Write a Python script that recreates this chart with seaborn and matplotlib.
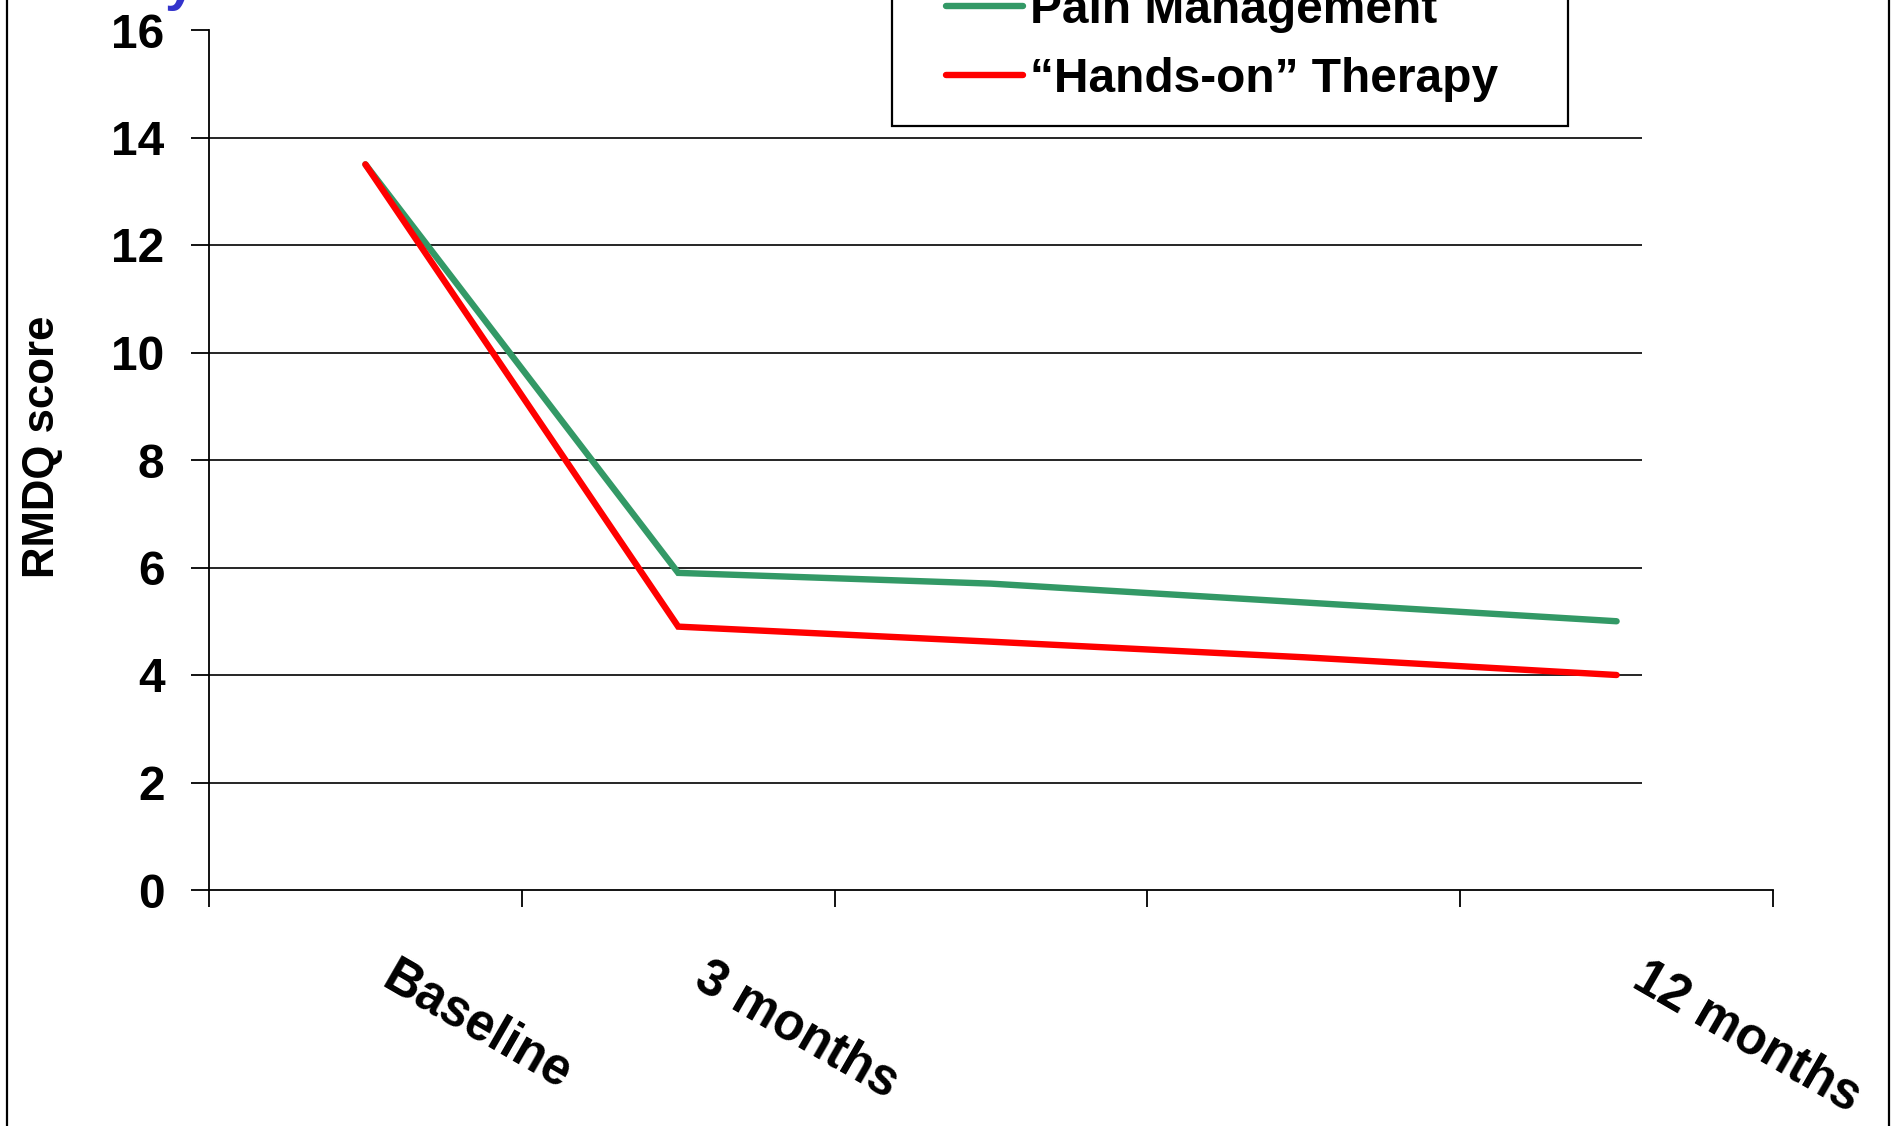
import numpy as np
import pandas as pd
import matplotlib
matplotlib.use("Agg")
import matplotlib.pyplot as plt
import matplotlib.transforms as mtransforms
from matplotlib.patches import Rectangle
import seaborn as sns

# data
timepoints = ["Baseline", "3 months", "6 months", "9 months", "12 months"]
tick_labels = ["Baseline", "3 months", "", "", "12 months"]
pain_management = [13.5, 5.9, 5.7, 5.35, 5.0]
hands_on = [13.5, 4.9, 4.62, 4.33, 4.0]
groups = ["Pain Management", "\u201cHands-on\u201d Therapy"]
colors = {"Pain Management": "#339966", "\u201cHands-on\u201d Therapy": "#ff0000"}

df = pd.concat([
    pd.DataFrame({"pos": range(len(timepoints)), "time": timepoints,
                  "score": pain_management, "group": groups[0]}),
    pd.DataFrame({"pos": range(len(timepoints)), "time": timepoints,
                  "score": hands_on, "group": groups[1]}),
])

sns.set_style("white")
plt.rcParams["font.family"] = ["Liberation Sans", "DejaVu Sans"]
plt.rcParams["font.weight"] = "bold"
for key in ["text.color", "axes.labelcolor", "xtick.color", "ytick.color"]:
    plt.rcParams[key] = "black"

W, H = 1891, 1126
fig = plt.figure(figsize=(W / 100, H / 100), dpi=100)
ax = fig.add_axes([209 / W, 1 - 890 / H, (1773 - 209) / W, (890 - 30) / H])

sns.lineplot(data=df, x="pos", y="score", hue="group", hue_order=groups,
             palette=colors, linewidth=4.6, legend=False, ax=ax, sort=False)
for ln in ax.get_lines():
    ln.set_solid_capstyle("round")
    ln.set_solid_joinstyle("miter")

ax.set_xlim(-0.5, len(timepoints) - 0.5)
ax.set_ylim(0, 16)

# gridlines (they stop short of the axis end, like the original)
for yv in range(2, 16, 2):
    ax.hlines(yv, -0.5, 4.08, color="black", lw=1.2, zorder=0.5)

for side in ["top", "right"]:
    ax.spines[side].set_visible(False)
for side in ["left", "bottom"]:
    ax.spines[side].set_color("black")
    ax.spines[side].set_linewidth(1.3)

ax.set_yticks(range(0, 17, 2))
ax.tick_params(axis="y", left=True, direction="out", length=13, width=1.3,
               color="black", pad=19, labelsize=34.5, labelcolor="black")
ax.set_xticks(np.arange(len(timepoints)))
ax.set_xticks(np.arange(-0.5, len(timepoints)), minor=True)
ax.set_xticklabels(tick_labels, rotation=-30, ha="left", va="top",
                   rotation_mode="anchor", fontsize=36.5, fontweight="bold")
ax.tick_params(axis="x", which="major", length=0, pad=45, labelcolor="black")
ax.tick_params(axis="x", which="minor", bottom=True, direction="out", length=12.5,
               width=1.3, color="black")
shift = mtransforms.ScaledTranslation(0.33, 0, fig.dpi_scale_trans)
for lab in ax.get_xticklabels():
    lab.set_transform(lab.get_transform() + shift)
for lab in ax.get_yticklabels():
    lab.set_fontweight("bold")

ax.set_xlabel("")
ax.set_ylabel("RMDQ score", fontsize=31.5, fontweight="bold", color="black")
ax.yaxis.set_label_coords(-0.0935, 0.515)

# outer frame of the slide chart (top and bottom are cut off)
fig.add_artist(Rectangle((7 / W, -0.2), (1889 - 7) / W, 1.4, transform=fig.transFigure,
                         fill=False, edgecolor="black", lw=1.6))

# legend box, cut off at the top of the picture
fig.add_artist(Rectangle((892 / W, 1 - 126 / H), (1568 - 892) / W, 0.3,
                         transform=fig.transFigure, facecolor="white",
                         edgecolor="black", lw=1.6, zorder=3))
leg = fig.legend(ax.get_lines(), groups, loc="lower left",
                 bbox_to_anchor=(946 / W, 1 - 102 / H), bbox_transform=fig.transFigure,
                 frameon=False, borderpad=0, borderaxespad=0,
                 handlelength=1.6, handletextpad=0.15, labelspacing=0.5,
                 prop={"weight": "bold", "size": 34.5})
leg.set_zorder(4)
for t in leg.get_texts():
    t.set_color("black")

# fragment of the blue title above the picture
fig.text(165 / W, 1 + 1 / H, "y", color="#3333cc", fontsize=40, fontweight="bold",
         ha="left", va="baseline")

fig.savefig("out.png", dpi=100)
